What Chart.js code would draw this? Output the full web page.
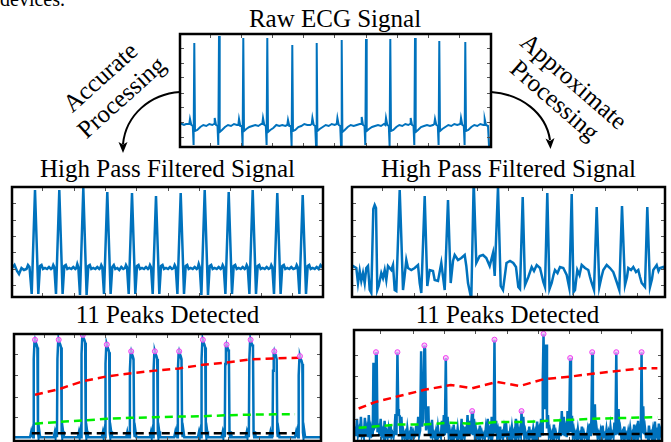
<!DOCTYPE html>
<html>
<head>
<meta charset="utf-8">
<script src="https://cdn.jsdelivr.net/npm/chart.js@4"></script>
<style>
  html, body { margin: 0; padding: 0; background: #fff; }
  body { position: relative; width: 671px; height: 442px; overflow: hidden; font-family: "Liberation Serif", serif; }
  svg.overlay { position: absolute; left: 0; top: 0; }
</style>
</head>
<body>
<svg class="overlay" width="671" height="442" font-family="Liberation Serif, Times New Roman, serif" font-size="25" fill="#000">
  <text x="0" y="6" font-size="20">devices.</text>
  <text x="335" y="27" text-anchor="middle">Raw ECG Signal</text>
  <text x="167.5" y="177" text-anchor="middle">High Pass Filtered Signal</text>
  <text x="508.5" y="177" text-anchor="middle">High Pass Filtered Signal</text>
  <text x="167.5" y="322.5" text-anchor="middle">11 Peaks Detected</text>
  <text x="507.5" y="322.5" text-anchor="middle">11 Peaks Detected</text>
  <text transform="translate(100,77) rotate(-42)" text-anchor="middle" dominant-baseline="central">Accurate</text>
  <text transform="translate(121,97) rotate(-42)" text-anchor="middle" dominant-baseline="central">Processing</text>
  <text transform="translate(574,81) rotate(41)" text-anchor="middle" dominant-baseline="central">Approximate</text>
  <text transform="translate(555,100) rotate(41)" text-anchor="middle" dominant-baseline="central">Processing</text>
  <path d="M 180 92 C 150 94, 126 115, 123 144" stroke="#000" stroke-width="2" fill="none"/>
  <polygon points="123,153 118.5,142 123,144.5 127.5,142" fill="#000"/>
  <path d="M 491 92 C 521 94, 546 113, 550 140" stroke="#000" stroke-width="2" fill="none"/>
  <polygon points="550.5,149 545.5,138.5 550,141 554.5,138" fill="#000"/>
</svg>
<script>
// ---- data (x = position along the trace, y = amplitude, both in panel units) ----
const rawEcg = [
  [0,24],[2,23],[4,22],[6,23],
  [9.3,23],[10,28],[11.3,22],[12.8,21],[13.6,2],[14.3,104],[15,16],[17.3,17],[20.3,20],[23.3,22],[26.3,21],[29.3,23],[32.3,22],
  [34,23],[34.7,29],[36,22],[37.5,21],[38.3,2],[39,111],[39.7,15],[42,17],[45,20],[48,22],[51,21],[54,23],[57,22],
  [58.3,22],[59,28],[60.3,21],[61.8,21],[62.6,1],[63.3,109],[64,16],[66.3,18],[69.3,20],[72.3,21],[75.3,22],[78.3,21],[81.3,23],
  [82.3,23],[83,29],[84.3,22],[85.8,21],[86.6,2],[87.3,109],[88,15],[90.3,17],[93.3,19],[96.3,22],[99.3,21],[102.3,22],[105.3,21],
  [107.3,22],[108,27],[109.3,21],[110.8,21],[111.6,1],[112.3,102],[113,16],[115.3,17],[118.3,20],[121.3,21],[124.3,23],[127.3,22],[130.3,22],
  [131.7,23],[132.4,29],[133.7,22],[135.2,21],[136,2],[136.7,104],[137.4,16],[139.7,18],[142.7,20],[145.7,22],[148.7,21],[151.7,23],[154.7,22],
  [156.7,23],[157.4,29],[158.7,22],[160.2,21],[161,2],[161.7,107],[162.4,15],[164.7,17],[167.7,20],[170.7,22],[173.7,21],[176.7,22],[179.7,23],
  [181,23],[181.7,30],[183,22],[184.5,21],[185.3,2],[186,108],[186.7,16],[189,18],[192,20],[195,21],[198,22],[201,21],[204,23],
  [205.3,22],[206,29],[207.3,22],[208.8,21],[209.6,1],[210.3,108],[211,16],[213.3,17],[216.3,20],[219.3,22],[222.3,21],[225.3,23],[228.3,22],
  [230,23],[230.7,29],[232,22],[233.5,21],[234.3,2],[235,109],[235.7,15],[238,17],[241,20],[244,21],[247,22],[250,21],[253,22],
  [254.3,23],[255,28],[256.3,22],[257.8,21],[258.6,2],[259.3,106],[260,16],[262.3,18],[265.3,20],[268.3,22],[271.3,21],[274.3,23],[277.3,22],
  [280.3,23],[281,29],[282.3,22],[283.8,21],[284.6,2],[285.3,105],[286,16],[288.3,17],[291.3,20],[294.3,22],[297.3,21],[300.3,23],[303.3,22],
  [304,22],[304.7,28],[306,22],[308,21],[309,1],[311,1]
];

const hpAccurate = [
  [0,29],[2.5,32],[5,26],[7,23],[9.5,29],[12,27],[14.5,28],[16,32],[17.5,30],
  [19.7,3],[23,107],[26.3,3],[28,31],[29.5,32],[31,28],[33,29],[35,28],[37,30],[39,28],
  [40.3,29],[41.3,32],[42.3,30],[44,3],[47.3,107],[50.6,3],[52.3,31],[53.8,32],[55.3,28],[57.3,29],[59.3,28],[61.3,30],[63.3,28],
  [64.3,29],[65.3,33],[66.3,30],[68,2],[71.3,109],[74.6,2],[76.3,31],[77.8,32],[79.3,28],[81.3,29],[83.3,28],[85.3,30],[87.3,28],
  [88.3,29],[89.3,32],[90.3,30],[92,3],[95.3,105],[98.6,3],[100.3,30],[101.8,32],[103.3,28],[105.3,29],[107.3,27],[109.3,30],[111.3,28],
  [113,29],[114,32],[115,30],[116.7,3],[120,104],[123.3,3],[125,31],[126.5,32],[128,28],[130,29],[132,28],[134,30],[136,28],
  [137,29],[138,32],[139,30],[140.7,3],[144,101],[147.3,3],[149,31],[150.5,32],[152,28],[154,29],[156,28],[158,30],[160,28],
  [161.7,29],[162.7,32],[163.7,30],[165.4,3],[168.7,104],[172,3],[173.7,31],[175.2,32],[176.7,28],[178.7,29],[180.7,28],[182.7,30],[184.7,28],
  [185.7,29],[186.7,33],[187.7,30],[189.4,2],[192.7,107],[196,2],[197.7,31],[199.2,32],[200.7,28],[202.7,29],[204.7,28],[206.7,30],[208.7,28],
  [209.7,29],[210.7,32],[211.7,30],[213.4,3],[216.7,105],[220,3],[221.7,31],[223.2,32],[224.7,28],[226.7,29],[228.7,28],[230.7,30],[232.7,28],
  [233.7,29],[234.7,32],[235.7,30],[237.4,3],[240.7,107],[244,3],[245.7,31],[247.2,32],[248.7,28],[250.7,29],[252.7,28],[254.7,30],[256.7,28],
  [258.3,29],[259.3,32],[260.3,30],[262,3],[265.3,104],[268.6,3],[270.3,31],[271.8,32],[273.3,28],[275.3,29],[277.3,28],[279.3,30],[281.3,28],
  [283.7,29],[284.7,32],[285.7,30],[287.4,3],[290.7,102],[294,3],[295.7,31],[297.2,32],[298.7,28],[300.7,29],[302.7,28],[304.7,30],[306.7,28],[308.5,32],[311,29]
];

const hpApprox = [
  [0,29],[1,31],[4.3,29],[6,14],[7.7,26],[9.3,16],[11,24],[12.7,14],[14.3,29],[16,31],[17.7,7],[19.3,4],
  [21.3,88],[22.7,92],[24,89],[25.3,7],[26.7,11],[29.3,24],[31,19],[32.7,27],[34.3,17],[36,31],[39.3,27],[41,32],[42.7,7],[44.3,6],
  [47.7,107],[49.3,60],[51,7],[52.5,20],[54.3,37],[56,29],[59.3,27],[62.7,29],[66,32],[67.7,14],[69.3,4],
  [72.7,101],[75.3,11],[77.7,27],[81,26],[82.7,17],[86,16],[89.3,34],[92.7,7],
  [96,97],[98.7,14],[101,36],[102.7,42],[106,37],[109.3,39],[112.7,42],[114.3,31],[116,14],[119.3,-2],
  [121.7,116],[124.3,34],[127.7,41],[131,42],[134.3,39],[137.7,31],[141,44],[142.7,21],
  [146,110],[148.7,11],[151,7],[154.5,34],[158,36],[161.3,34],[164,30],[166.3,10],[168,8],
  [170.7,100],[173,12],[176.3,20],[179.7,30],[182,26],[184.7,32],[188,29],[191.3,15],[193,10],
  [195.3,104],[197.5,8],[199.7,14],[201.5,22],[203,27],[205.5,24],[208,30],[211.3,29],[214.7,22],[217.3,9],
  [219.7,103],[221.5,5],[223,7],[225.3,27],[227.5,22],[229.7,32],[233,29],[236.3,27],[238,20],[239.7,14],[242,7],
  [244.7,90],[247.3,10],[249.5,20],[251.3,27],[254.7,32],[258,29],[261.3,25],[263,20],[264.7,15],[267.3,7],
  [270,91],[273,12],[275,20],[276.3,29],[279,27],[281.3,30],[284,25],[286.3,27],[288,20],[289.7,14],[293,10],
  [295.3,90],[298,10],[300,18],[301.3,27],[304.7,32],[306.5,26],[308,29],[311.3,30],[313,28]
];

const energyAccurate = [
  [0,1],
  [16.3,1],[17.3,6],[18.1,1],[18.9,7],[19.5,1],[20,82],[20.7,99],[21.3,102],[22.1,99],[22.9,97],[23.7,94],[24.3,6],[24.9,1],[25.7,7],[26.5,1],[27.3,1],
  [40.3,1],[41.3,6],[42.1,1],[42.9,7],[43.5,1],[44,82],[44.7,99],[45.3,102],[46.1,99],[46.9,97],[47.7,94],[48.3,6],[48.9,1],[49.7,7],[50.5,1],[51.3,1],
  [64.7,1],[65.7,6],[66.5,1],[67.3,7],[67.9,1],[68.4,87],[69.1,104],[69.7,107],[70.5,104],[71.3,102],[72.1,99],[72.7,6],[73.3,1],[74.1,7],[74.9,1],[75.7,1],
  [89,1],[90,6],[90.8,1],[91.6,7],[92.2,1],[92.7,77],[93.4,94],[94,97],[94.8,94],[95.6,92],[96.4,89],[97,6],[97.6,1],[98.4,7],[99.2,1],[100,1],
  [113.7,1],[114.7,6],[115.5,1],[116.3,7],[116.9,1],[117.4,70],[118.1,87],[118.7,90],[119.5,87],[120.3,85],[121.1,82],[121.7,6],[122.3,1],[123.1,7],[123.9,1],[124.7,1],
  [137.7,1],[138.7,6],[139.5,1],[140.3,7],[140.9,1],[141.4,70],[142.1,87],[142.7,90],[143.5,87],[144.3,85],[145.1,82],[145.7,6],[146.3,1],[147.1,7],[147.9,1],[148.7,1],
  [162.3,1],[163.3,6],[164.1,1],[164.9,7],[165.5,1],[166,70],[166.7,87],[167.3,90],[168.1,87],[168.9,85],[169.7,82],[170.3,6],[170.9,1],[171.7,7],[172.5,1],[173.3,1],
  [186.3,1],[187.3,6],[188.1,1],[188.9,7],[189.5,1],[190,82],[190.7,99],[191.3,102],[192.1,99],[192.9,97],[193.7,94],[194.3,6],[194.9,1],[195.7,7],[196.5,1],[197.3,1],
  [210.3,1],[211.3,6],[212.1,1],[212.9,7],[213.5,1],[214,77],[214.7,94],[215.3,97],[216.1,94],[216.9,92],[217.7,89],[218.3,6],[218.9,1],[219.7,7],[220.5,1],[221.3,1],
  [234.7,1],[235.7,6],[236.5,1],[237.3,7],[237.9,1],[238.4,82],[239.1,99],[239.7,102],[240.5,99],[241.3,97],[242.1,94],[242.7,6],[243.3,1],[244.1,7],[244.9,1],[245.7,1],
  [258.7,1],[259.7,6],[260.5,1],[261.3,7],[261.9,1],[262.4,70],[263.1,87],[263.7,90],[264.5,87],[265.3,85],[266.1,82],[266.7,6],[267.3,1],[268.1,7],[268.9,1],[269.7,1],
  [284.7,1],[285.7,6],[286.5,1],[287.3,7],[287.9,1],[288.4,65],[289.1,82],[289.7,85],[290.5,82],[291.3,80],[292.1,77],[292.7,6],[293.3,1],[294.1,7],[294.9,1],[295.7,1],
  [311,1]
];
const peaksAccurate = [[21.3,102],[45.3,102],[69.7,107],[94,97],[118.7,90],[142.7,90],[167.3,90],[191.3,102],[215.3,97],[239.7,102],[263.7,90],[289.7,85]];
const thresholdAccurate = [[21.3,45],[45.3,50.7],[69.7,59],[94,64],[118.7,67.3],[142.7,70],[167.3,72.3],[191.3,76],[215.3,78.3],[239.7,81.7],[263.7,82.7],[289.7,83.3]];
const signalLevelAccurate = [[21.3,15],[45.3,16.7],[69.7,18.3],[94,20],[118.7,21],[142.7,21.7],[167.3,22.3],[191.3,22.7],[215.3,23.7],[239.7,24.3],[263.7,24.7],[284.7,24.7]];
const noiseLevelAccurate = [[18,5],[284.7,5]];

const energyApprox = [
  [0,4],[1,12],[2,2],[3,20],[4,3],[5,8],[6,1],[7,22],[8,3],[9,6],[10,1],[11,21],[12,2],[13,9],[14,1],[15,24],[16,4],[17,10],[18,2],
  [19,3],[19.7,78],[20.5,10],[21.5,12],[22.3,89],[23,85],[23.8,6],[24.8,15],[25.8,2],
  [27,20],[28,3],[29,7],[30,1],[31,18],[32,2],[33,6],[34,1],[35,9],[36,0],[37,14],[38,2],[39,5],[40,1],
  [41,8],[42,25],[43,3],[44,89],[44.8,30],[45.5,24],[46.3,23],[47,4],[48,22],[49,2],[50,7],[51,1],[52,5],[53,0],[54,10],[55,1],[56,4],[57,0],[58,12],[59,2],[60,6],[61,1],[62,3],[63,13],[64,2],[65,22],[66,3],[67,8],
  [68,90],[69,12],[70,20],[71.3,96],[72,92],[73,8],[74,15],[75.3,33],[76,3],[77,9],[78,1],[79,19],[80,2],[81,5],[82,1],[83,7],[84,0],[85,11],[86,2],[87,4],[88,1],[89,18],[90,2],[91,24],[92,3],
  [93,83],[93.8,5],[94.8,22],[96,2],[97,8],[98,1],[99,6],[100,0],[101,14],[102,2],[103,5],[104,1],[105,10],[106,0],[107,4],[108,1],[109,20],[110,2],[111,7],[112,1],[113,12],[114,2],[115,24],[116,3],[117,18],[118,4],
  [119.7,28],[120.5,3],[121.5,20],[122.5,2],[123.5,9],[124.5,1],[125.5,5],[126.5,0],[127.5,13],[128.5,2],[129.5,6],[130.5,1],[131.5,4],[132.5,0],[133.5,10],[134.5,1],[135.5,20],[136.5,2],[137.5,7],[138.5,1],[139.5,22],[140.5,3],[141.5,9],
  [142.3,102],[143,5],[144,18],[145,2],[146,8],[147,1],[148,12],[149,2],[150,5],[151,0],[152,9],[153,1],[154,16],[155,2],[156,4],[157,0],[158,7],[159,1],[160,11],[161,2],[162,6],[163,1],[164,20],[165,3],[166,10],[167,2],[168,8],[169,3],
  [169.7,28],[170.5,4],[171.5,22],[172.5,2],[173.5,7],[174.5,1],[175.5,4],[176.5,0],[177.5,12],[178.5,2],[179.5,5],[180.5,1],[181.5,9],[182.5,0],[183.5,6],[184.5,1],[185.5,17],[186.5,2],[187.5,8],[188.5,1],[189.5,20],[190.5,4],[191.2,60],
  [192,108],[192.8,40],[193.6,30],[194.7,97],[195.5,10],[196.5,24],[197.5,3],[198.5,8],[199.5,1],[200.5,5],[201.5,0],[202.5,14],[203.5,2],[204.5,6],[205.5,1],[206.5,3],[207.5,0],[208.5,10],[209.5,2],[210.5,28],[211.5,3],[212.5,22],[213.5,2],[214.5,9],[215.5,1],[216.3,28],[217,5],[218,12],
  [219,83],[219.8,6],[220.8,23],[221.8,2],[222.8,8],[223.8,1],[224.8,5],[225.8,0],[226.8,9],[227.8,1],[228.8,4],[229.8,0],[230.8,12],[231.8,2],[232.8,6],[233.8,1],[234.8,3],[235.8,0],[236.8,8],[237.8,1],[238.8,15],[239.8,2],[240.5,20],
  [241.3,89],[242,5],[243,12],[244,35],[244.8,4],[245.8,10],[246.8,1],[247.8,5],[248.8,0],[249.8,7],[250.8,1],[251.8,13],[252.8,2],[253.8,4],[254.8,0],[255.8,9],[256.8,1],[257.8,6],[258.8,0],[259.8,11],[260.8,2],[261.8,5],[262.8,1],[263.8,16],[264.8,3],
  [265.7,89],[266.5,5],[267.3,14],[268,30],[268.8,3],[269.8,9],[270.8,1],[271.8,5],[272.8,0],[273.8,12],[274.8,1],[275.8,4],[276.8,0],[277.8,7],[278.8,1],[279.8,10],[280.8,2],[281.8,5],[282.8,0],[283.8,14],[284.8,2],[285.8,8],[286.8,1],[287.8,18],[288.8,3],[289.8,6],[290.5,3],
  [291.3,89],[292,5],[293,33],[293.8,4],[294.8,10],[295.8,1],[296.8,6],[297.8,0],[298.8,13],[299.8,2],[300.8,5],[301.8,0],[302.8,8],[303.8,1],[304.8,17],[305.8,2],[306.8,6],[307.8,1],[308.8,15],[309.8,2],[310.8,7],[312,1]
];
const peaksApprox = [[22.3,89],[44,89],[71.3,96],[93,83],[119.7,28],[142.3,102],[169.7,28],[192,108],[219,83],[241.3,89],[265.7,89],[291.3,89]];
const thresholdApprox = [[4.7,30.7],[21.3,37.3],[44.7,43.3],[71.3,50],[98,55],[119.7,51.7],[144.7,58.3],[168,54],[192,61],[221.3,64],[241.3,66.7],[264.7,69.3],[291.3,72.3],[307.3,72.3]];
const signalLevelApprox = [[4.7,10.7],[44.7,14],[71.3,14],[98,16],[119.7,14.7],[144.7,16.7],[169.7,16.7],[192,17.7],[221.3,19],[241.3,20],[264.7,20.7],[291.3,21.3],[307.3,21.7]];
const noiseLevelApprox = [[4.7,2.7],[71.3,3.3],[144.7,3.3],[169.7,4],[221.3,4],[307.3,4.3]];

// tick positions (panel units)
const rawXTicks = [30, 61, 92, 123, 154, 186, 217, 248, 279];
const rawYTicks = [10, 25, 40, 54, 70, 84, 99];
const hpAccXTicks = [30, 62, 93, 124, 156, 187, 218, 249, 280];
const hpAppXTicks = [30, 62, 94, 125, 156, 190, 221, 253, 285];
const hpYTicks = [12, 28, 45, 61, 77, 94];
const pkAccXTicks = [30, 61, 92, 124, 155, 186, 217, 248, 280];
const pkAppXTicks = [26, 60, 91, 123, 155, 186, 218, 250, 281];
const pkAccYTicks = [22, 43, 65, 87];
const pkAppYTicks = [20, 42, 64, 86];

// ---- drawing ----
const BLUE = "#0072BD";
const PAD = 3;

const frameTicks = {
  id: "frameTicks",
  afterDraw(chart, args, opts) {
    const { ctx, chartArea: a, scales: { x, y } } = chart;
    ctx.save();
    ctx.strokeStyle = "#555";
    ctx.lineWidth = 1;
    ctx.beginPath();
    for (const v of opts.xTicks) {
      const px = Math.round(x.getPixelForValue(v)) + 0.5;
      ctx.moveTo(px, a.top); ctx.lineTo(px, a.top + 4);
      ctx.moveTo(px, a.bottom); ctx.lineTo(px, a.bottom - 4);
    }
    for (const v of opts.yTicks) {
      const py = Math.round(y.getPixelForValue(v)) + 0.5;
      ctx.moveTo(a.left, py); ctx.lineTo(a.left + 4, py);
      ctx.moveTo(a.right, py); ctx.lineTo(a.right - 4, py);
    }
    ctx.stroke();
    ctx.strokeStyle = "#000";
    ctx.lineWidth = 2.5;
    ctx.strokeRect(a.left, a.top, a.right - a.left, a.bottom - a.top);
    ctx.restore();
  },
};

function panel(box, yMin, yMax, datasets, xTicks, yTicks) {
  const c = document.createElement("canvas");
  c.width = box.w + 2 * PAD;
  c.height = box.h + 2 * PAD;
  c.style.cssText = `position:absolute;left:${box.x - PAD}px;top:${box.y - PAD}px;width:${c.width}px;height:${c.height}px`;
  document.body.appendChild(c);
  return new Chart(c, {
    type: "line",
    data: { datasets },
    options: {
      responsive: false,
      animation: false,
      devicePixelRatio: 1,
      events: [],
      layout: { padding: PAD },
      plugins: { legend: { display: false }, tooltip: { enabled: false }, frameTicks: { xTicks, yTicks } },
      scales: {
        x: { type: "linear", display: false, min: 0, max: box.w },
        y: { type: "linear", display: false, min: yMin, max: yMax },
      },
      elements: { point: { radius: 0 }, line: { tension: 0 } },
    },
    plugins: [frameTicks],
  });
}

const trace = (data, w) => ({ data, borderColor: BLUE, borderWidth: w, pointRadius: 0, fill: false });
const dashed = (data, color) => ({ data, borderColor: color, borderWidth: 2.5, borderDash: [8, 5], pointRadius: 0, fill: false });
const marks = (data) => ({
  data, showLine: false, pointRadius: 2.5, pointBorderWidth: 1,
  pointBorderColor: "#f040f0", pointBackgroundColor: "rgba(250,180,250,0.7)",
});

panel({ x: 180, y: 34, w: 311, h: 113 }, 0, 113, [trace(rawEcg, 2)], rawXTicks, rawYTicks);
panel({ x: 12, y: 187, w: 311, h: 110 }, 0, 110, [trace(hpAccurate, 2.5)], hpAccXTicks, hpYTicks);
panel({ x: 352, y: 187, w: 313, h: 110 }, 0, 110, [trace(hpApprox, 2.5)], hpAppXTicks, hpYTicks);
panel({ x: 12, y: 332, w: 311, h: 111 }, -3, 108, [
  marks(peaksAccurate),
  dashed(noiseLevelAccurate, "#000"),
  dashed(signalLevelAccurate, "#00ee00"),
  dashed(thresholdAccurate, "#ff0000"),
  trace(energyAccurate, 2.5),
], pkAccXTicks, pkAccYTicks);
panel({ x: 352, y: 328, w: 312, h: 115 }, -3, 112, [
  marks(peaksApprox),
  dashed(noiseLevelApprox, "#000"),
  dashed(signalLevelApprox, "#00ee00"),
  dashed(thresholdApprox, "#ff0000"),
  trace(energyApprox, 2.5),
], pkAppXTicks, pkAppYTicks);
</script>
</body>
</html>
